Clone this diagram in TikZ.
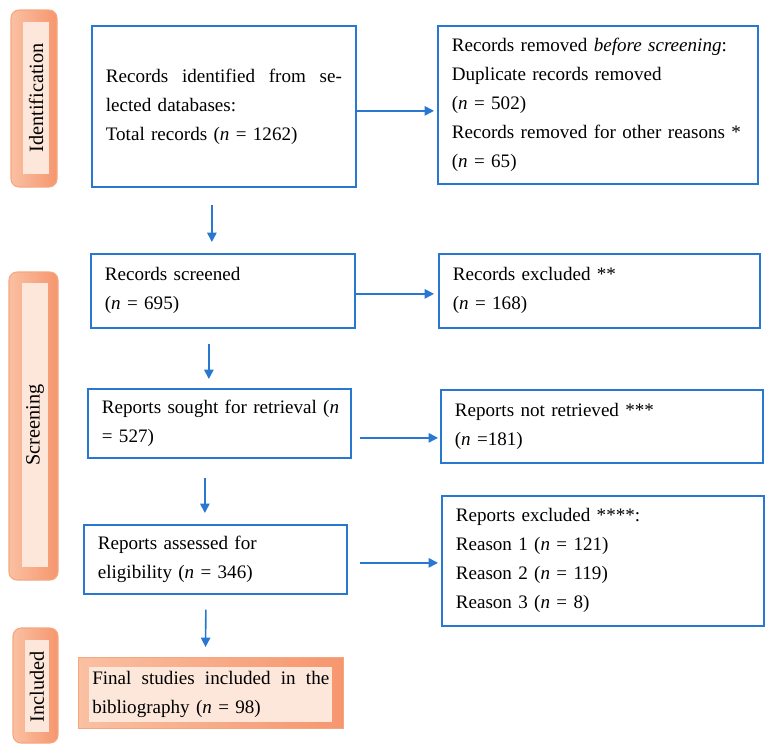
\documentclass[tikz,border=0pt]{standalone}
\usepackage{fontspec}
\setmainfont{Liberation Serif}
\usetikzlibrary{arrows.meta,calc}
\definecolor{fblue}{RGB}{40,120,210}
\definecolor{oleft}{RGB}{250,192,162}
\definecolor{oright}{RGB}{246,150,110}
\definecolor{oedge}{RGB}{245,168,128}
\definecolor{pale}{RGB}{253,230,218}
\newcommand\mainfnt{\fontsize{14.3}{21.75}\selectfont}
\newcommand\labfnt{\fontsize{15.2}{18}\selectfont}
\tikzset{
  box/.style={draw=fblue, line width=1.3pt, anchor=north west, inner xsep=10.5pt,
    inner ysep=0pt, align=left, font=\mainfnt},
  arr/.style={draw=fblue, line width=1.2pt, -{Triangle[length=7pt,width=7pt]}},
  phase/.style={rounded corners=6pt, left color=oleft, right color=oright, draw=oedge, line width=0.8pt},
  phin/.style={fill=pale, draw=none},
  phlabel/.style={rotate=90, font=\labfnt, inner sep=0pt},
}
\begin{document}
\begin{tikzpicture}[x=0.75pt,y=-0.75pt]
\useasboundingbox (0,0) rectangle (773,753);
% phase bars
\path[phase] (11,10) rectangle (57,187);
\path[phin] (23,22) rectangle (49,174);
\node[phlabel] (lid) at (36,98) {Identification};
\path[phase] (9,272) rectangle (58,580);
\path[phin] (22,283) rectangle (48,567);
\node[phlabel] (lsc) at (35,425) {Screening};
\path[phase] (13,628) rectangle (58,743);
\path[phin] (25,640) rectangle (49,732);
\node[phlabel] (lin) at (37,687) {Included};
% boxes
\node[box, text width=177pt, minimum width=198pt, minimum height=120.75pt] (b1) at (91,25)
  {Records\hfill identified\hfill from\hfill se-\\lected databases:\\Total records (\textit{n} = 1262)};
\node[box, text width=219pt, minimum width=240pt, minimum height=118.5pt] (r1) at (437,25)
  {Records removed \textit{before screening}:\\Duplicate records removed\\(\textit{n} = 502)\\\mbox{Records removed for other reasons *}\\(\textit{n} = 65)};
\node[box, text width=177pt, minimum width=198pt, minimum height=55.5pt] (scr) at (90,253)
  {Records screened\\(\textit{n} = 695)};
\node[box, text width=219.75pt, minimum width=240.75pt, minimum height=55.5pt] (exc) at (438,253)
  {Records excluded **\\(\textit{n} = 168)};
\node[box, text width=176.25pt, minimum width=197.25pt, minimum height=51.75pt] (sou) at (87,388)
  {\mbox{Reports sought for retrieval (\textit{n}}\\= 527)};
\node[box, text width=220.5pt, minimum width=241.5pt, minimum height=54.75pt] (nr) at (440,389)
  {Reports not retrieved ***\\(\textit{n} =181)};
\node[box, text width=176.25pt, minimum width=197.25pt, minimum height=51.75pt] (ass) at (83,524)
  {Reports assessed for\\eligibility (\textit{n} = 346)};
\node[box, text width=220.5pt, minimum width=241.5pt, minimum height=97.5pt] (ex4) at (441,495)
  {Reports excluded ****:\\Reason 1 (\textit{n} = 121)\\Reason 2 (\textit{n} = 119)\\Reason 3 (\textit{n} = 8)};
% final box
\node[anchor=north west, minimum width=198.75pt, minimum height=53.25pt, inner sep=0pt,
  left color=oleft, right color=oright, draw=oedge, line width=0.8pt] (fin) at (78,657) {};
\node[anchor=north west, fill=pale, minimum width=182.25pt, minimum height=41.25pt,
  text width=177.75pt, inner xsep=2.25pt, inner ysep=0pt, align=left, font=\mainfnt] (fint) at (89,667)
  {Final\hfill studies\hfill included\hfill in\hfill the\\bibliography (\textit{n} = 98)};
% arrows
\draw[arr] ([shift={(0,4.5)}]b1.east) -- ([shift={(-3,4.5)}]b1.east -| r1.west);
\draw[arr] ([shift={(0,3)}]scr.east) -- ([shift={(-4,3)}]scr.east -| exc.west);
\draw[arr] ([shift={(8,14.5)}]sou.east) -- ([shift={(-2,14.5)}]sou.east -| nr.west);
\draw[arr] ([shift={(12,3.5)}]ass.east) -- ([shift={(-3,3.5)}]ass.east -| ex4.west);
\draw[arr] ([shift={(-12,17)}]b1.south) -- ([shift={(-11,-11)}]scr.north);
\draw[arr] ([shift={(-14,15)}]scr.south) -- ([shift={(-10.5,-9)}]sou.north);
\draw[arr] ([shift={(-14.5,19)}]sou.south) -- ([shift={(-10.5,-11)}]ass.north);
\draw[arr] ([shift={(-9.5,15)}]ass.south) -- ([shift={(-5.5,-10)}]fin.north);
\end{tikzpicture}
\end{document}
